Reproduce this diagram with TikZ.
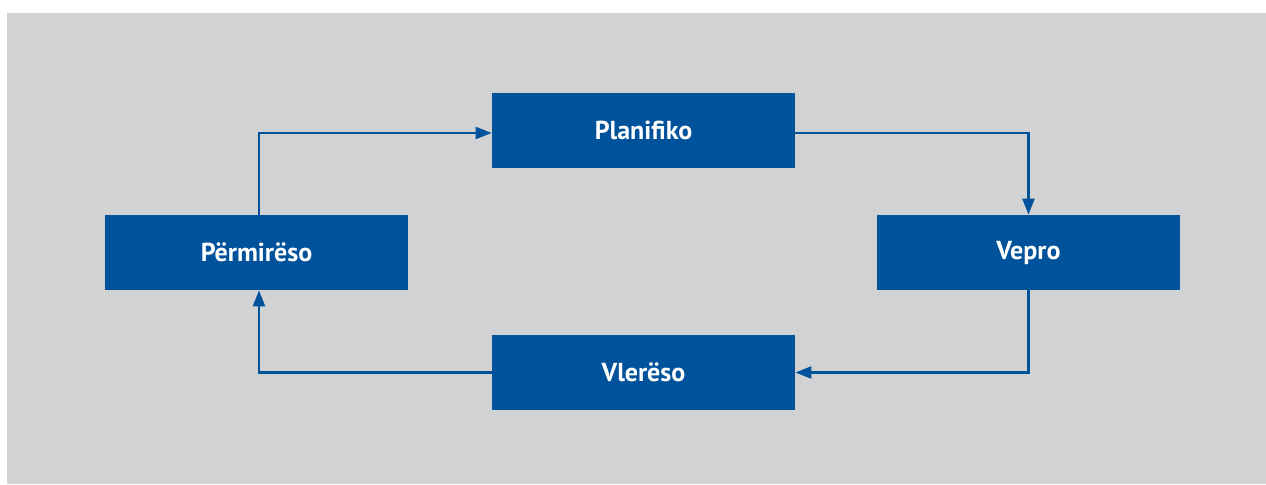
\documentclass[tikz,border=0pt]{standalone}
\usepackage{fontspec}
\setmainfont{PT Sans}
\usetikzlibrary{arrows.meta}
\definecolor{sfondo}{HTML}{D1D2D4}
\definecolor{blu}{HTML}{00529B}
\tikzset{
  fase/.style={fill=blu,text=white,font=\bfseries\fontsize{13}{15}\selectfont,minimum width=151.5pt,minimum height=37.5pt,inner sep=0pt},
  freccia/.style={draw=blu,line width=1.2pt,-{Triangle[width=6pt,length=8pt]}}
}
\begin{document}
\begin{tikzpicture}[x=0.5pt,y=-0.5pt]
      %sfondo
      \fill[white] (0,0) rectangle (1266,484);
      \fill[sfondo] (7,13) rectangle (1266,484);
      \useasboundingbox (0,0) rectangle (1266,484);
      %fasi
      \node[fase] (plan) at (643.5,130.5) {Planifiko};
      \node[fase] (vepro) at (1028.5,252.5) {Vepro};
      \node[fase] (vler) at (643.5,372.5) {Vlerëso};
      \node[fase] (perm) at (256.5,252.5) {Përmirëso};
      %frecce
      \draw[freccia] ([yshift=-1.25pt]plan.east) -| (vepro.north);
      \draw[freccia] (vepro.south) |- (vler.east);
      \draw[freccia] (vler.west) -| ([xshift=1.25pt]perm.south);
      \draw[freccia] ([xshift=1.25pt]perm.north) |- ([yshift=-1.25pt]plan.west);
   \end{tikzpicture}
\end{document}
